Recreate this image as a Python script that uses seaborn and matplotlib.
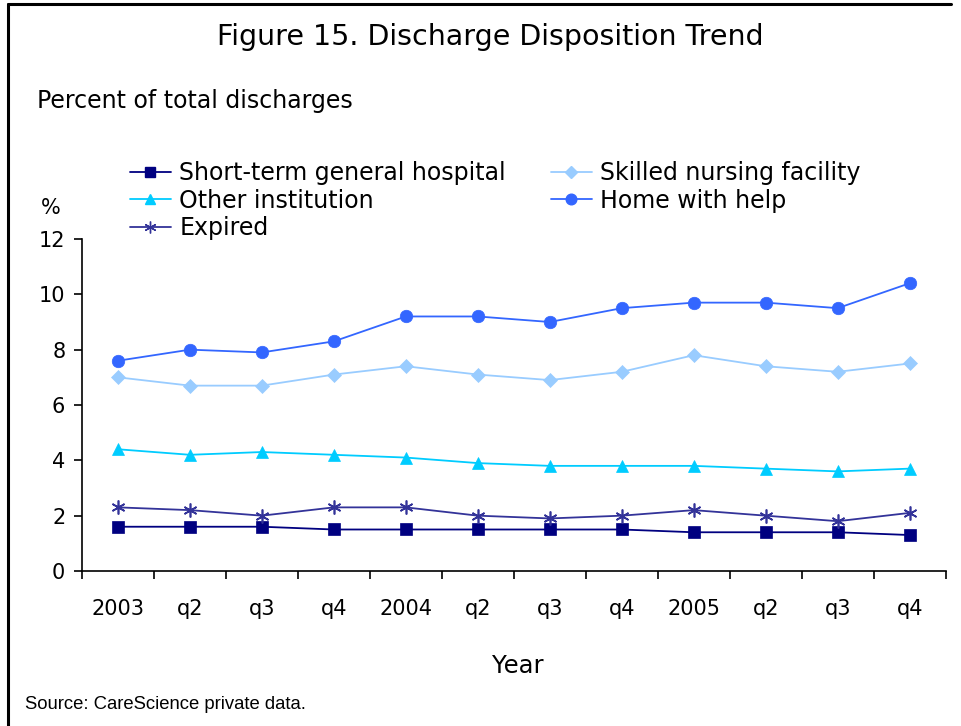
import matplotlib
matplotlib.use("Agg")
import matplotlib.pyplot as plt
import seaborn as sns
import pandas as pd
from matplotlib.lines import Line2D

# Quarterly periods
periods = ["2003", "q2", "q3", "q4", "2004", "q2", "q3", "q4", "2005", "q2", "q3", "q4"]

# Percent of total discharges by disposition
short_term = [1.6, 1.6, 1.6, 1.5, 1.5, 1.5, 1.5, 1.5, 1.4, 1.4, 1.4, 1.3]
skilled_nursing = [7.0, 6.7, 6.7, 7.1, 7.4, 7.1, 6.9, 7.2, 7.8, 7.4, 7.2, 7.5]
other_institution = [4.4, 4.2, 4.3, 4.2, 4.1, 3.9, 3.8, 3.8, 3.8, 3.7, 3.6, 3.7]
home_with_help = [7.6, 8.0, 7.9, 8.3, 9.2, 9.2, 9.0, 9.5, 9.7, 9.7, 9.5, 10.4]
expired = [2.3, 2.2, 2.0, 2.3, 2.3, 2.0, 1.9, 2.0, 2.2, 2.0, 1.8, 2.1]

series_names = ["Short-term general hospital", "Skilled nursing facility",
                "Other institution", "Home with help", "Expired"]
series_values = [short_term, skilled_nursing, other_institution, home_with_help, expired]

colors = {
    "Short-term general hospital": "#000080",
    "Skilled nursing facility": "#99CCFF",
    "Other institution": "#00CCFF",
    "Home with help": "#3366FF",
    "Expired": "#333399",
}
markers = {
    "Short-term general hospital": "s",
    "Skilled nursing facility": "D",
    "Other institution": "^",
    "Home with help": "o",
    "Expired": (6, 2, 0),
}
marker_sizes = {
    "Short-term general hospital": 8,
    "Skilled nursing facility": 7,
    "Other institution": 9,
    "Home with help": 9,
    "Expired": 10,
}

rows = []
for name, vals in zip(series_names, series_values):
    for i, v in enumerate(vals):
        rows.append({"idx": i, "value": v, "series": name})
df = pd.DataFrame(rows)

sns.set_theme(style="white")
plt.rcParams["font.family"] = ["DejaVu Sans"]
plt.rcParams["text.color"] = "black"

fig = plt.figure(figsize=(9.61, 7.26), dpi=100)
ax = fig.add_axes([0.0853, 0.2135, 0.8987, 0.4573])

for name in series_names:
    sub = df[df["series"] == name]
    sns.lineplot(data=sub, x="idx", y="value", ax=ax, color=colors[name],
                 marker=markers[name], markersize=marker_sizes[name],
                 markeredgecolor=colors[name], markeredgewidth=1.2 if name == "Expired" else 0.5,
                 linewidth=1.3, legend=False)

ax.set_xlim(-0.5, len(periods) - 0.5)
ax.set_ylim(0, 12)
ax.set_yticks(range(0, 13, 2))
ax.set_xticks(range(len(periods)))
ax.set_xticklabels(periods)
ax.set_xticks([i - 0.5 for i in range(len(periods) + 1)], minor=True)
ax.tick_params(axis="x", which="major", bottom=True, length=0, pad=20, labelsize=15, labelcolor="black")
ax.tick_params(axis="x", which="minor", bottom=True, length=6, width=1.2, direction="out", color="black")
ax.tick_params(axis="y", left=True, length=6, width=1.2, direction="out", labelsize=15, pad=6,
               color="black", labelcolor="black")
for side in ["top", "right"]:
    ax.spines[side].set_visible(False)
for side in ["left", "bottom"]:
    ax.spines[side].set_color("black")
    ax.spines[side].set_linewidth(1.2)
ax.set_xlabel("")
ax.set_ylabel("")

# Legend laid out in two columns
order = ["Short-term general hospital", "Other institution", "Expired",
         "Skilled nursing facility", "Home with help"]
handles = [Line2D([0], [0], color=colors[n], marker=markers[n],
                  markersize=marker_sizes[n] * 0.85, markeredgecolor=colors[n],
                  linewidth=1.3) for n in order]
fig.legend(handles, order, loc="upper left", bbox_to_anchor=(0.135, 0.778),
           ncol=2, frameon=False, fontsize=17, handlelength=1.75,
           handletextpad=0.35, columnspacing=1.9, labelspacing=0.15,
           borderaxespad=0, borderpad=0, labelcolor="black")

# Texts
fig.text(0.51, 0.949, "Figure 15. Discharge Disposition Trend", ha="center", va="center",
         fontsize=20.5, color="black")
fig.text(0.038, 0.861, "Percent of total discharges", ha="left", va="center",
         fontsize=17, color="black")
fig.text(0.053, 0.714, "%", ha="center", va="center", fontsize=15, color="black")
fig.text(0.539, 0.083, "Year", ha="center", va="center", fontsize=17.5, color="black")
fig.text(0.026, 0.030, "Source: CareScience private data.", ha="left", va="center",
         fontsize=13.3, color="black", family="Liberation Sans")

# Frame lines on top and left
fig.add_artist(Line2D([0.0085, 0.99], [0.9945, 0.9945], transform=fig.transFigure,
                      color="black", linewidth=2.2))
fig.add_artist(Line2D([0.0085, 0.0085], [0.0, 0.9945], transform=fig.transFigure,
                      color="black", linewidth=2.2))

fig.savefig("out.png", dpi=100, facecolor="white")
